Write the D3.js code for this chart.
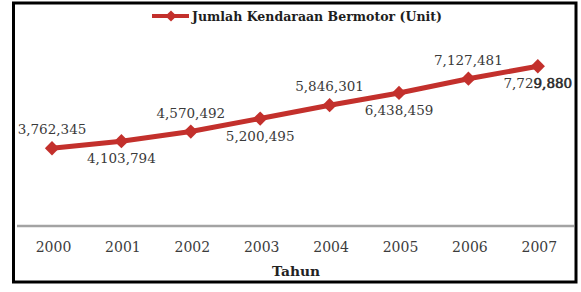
<!DOCTYPE html>
<html>
<head>
<meta charset="utf-8">
<script src="https://cdn.jsdelivr.net/npm/d3@7"></script>
<style>
  html, body { margin: 0; padding: 0; background: #fff; }
  svg { display: block; }
</style>
</head>
<body>
<svg id="chart" width="581" height="292"></svg>
<script>
const years = ["2000", "2001", "2002", "2003", "2004", "2005", "2006", "2007"];
const values = [3762345, 4103794, 4570492, 5200495, 5846301, 6438459, 7127481, 7729880];
const seriesName = "Jumlah Kendaraan Bermotor (Unit)";
const xTitle = "Tahun";

const svg = d3.select("#chart");
const red = "#c3302c";
const labelFont = "'DejaVu Serif', serif";

// frame
svg.append("rect")
  .attr("x", 13.5).attr("y", 3)
  .attr("width", 562.5).attr("height", 279)
  .attr("fill", "#fff")
  .attr("stroke", "#000").attr("stroke-width", 3);

const x = d3.scaleBand().domain(years).range([17.3, 572.5]);
const y = d3.scaleLinear().domain([0, 9e6]).range([226, 40]);
const cx = d => x(d) + x.bandwidth() / 2;

// axis
const axis = d3.axisBottom(x).tickSize(0).tickPadding(0);
const gAxis = svg.append("g").attr("transform", `translate(0,${y(0)})`).call(axis);
gAxis.select(".domain").attr("stroke", "#a3a3a3").attr("stroke-width", 2.5)
  .attr("d", `M17,0H574`);
gAxis.selectAll(".tick text")
  .attr("x", 1.5)
  .attr("y", 26).attr("dy", 0)
  .attr("fill", "#3c3c3c")
  .style("font-family", labelFont)
  .style("font-size", "14px");

svg.append("text")
  .attr("x", 296).attr("y", 276)
  .attr("text-anchor", "middle")
  .attr("fill", "#222")
  .style("font-family", labelFont)
  .style("font-weight", "bold")
  .style("font-size", "13.5px")
  .attr("textLength", 48).attr("lengthAdjust", "spacingAndGlyphs")
  .text(xTitle);

// line
const data = years.map((yr, i) => ({ yr, v: values[i], i }));
const line = d3.line().x(d => cx(d.yr)).y(d => y(d.v));
svg.append("path")
  .datum(data)
  .attr("d", line)
  .attr("fill", "none")
  .attr("stroke", red)
  .attr("stroke-width", 5)
  .attr("stroke-linejoin", "round");

const diamond = d3.symbol().type(d3.symbolDiamond2).size(130);
svg.selectAll(".pt").data(data).join("path")
  .attr("class", "pt")
  .attr("transform", d => `translate(${cx(d.yr)},${y(d.v)})`)
  .attr("d", diamond)
  .attr("fill", red);

// labels
const fmt = d3.format(",");
const lbl = svg.selectAll(".lbl").data(data).join("text")
  .attr("class", "lbl")
  .attr("x", d => cx(d.yr))
  .attr("y", d => y(d.v) + (d.i % 2 === 0 ? -14 : 22))
  .attr("text-anchor", "middle")
  .attr("fill", "#3a3a3a")
  .style("font-family", labelFont)
  .style("font-size", "13.5px");
lbl.each(function(d) {
  const s = fmt(d.v);
  const t = d3.select(this);
  if (d.i === data.length - 1) {
    t.append("tspan").text(s.slice(0, 4));
    t.append("tspan").attr("stroke", "#2a2a2a").attr("stroke-width", 0.6)
      .attr("fill", "#2a2a2a").text(s.slice(4));
  } else {
    t.text(s);
  }
});

// legend
const lg = svg.append("g");
lg.append("line").attr("x1", 152).attr("x2", 189).attr("y1", 16).attr("y2", 16)
  .attr("stroke", red).attr("stroke-width", 4);
lg.append("path").attr("transform", "translate(171,16)")
  .attr("d", d3.symbol().type(d3.symbolDiamond2).size(80)).attr("fill", red);
lg.append("text").attr("x", 192).attr("y", 21)
  .attr("fill", "#1e1e1e")
  .style("font-family", labelFont)
  .style("font-weight", "bold")
  .style("font-size", "13.5px")
  .attr("textLength", 250).attr("lengthAdjust", "spacingAndGlyphs")
  .text(seriesName);
</script>
</body>
</html>
